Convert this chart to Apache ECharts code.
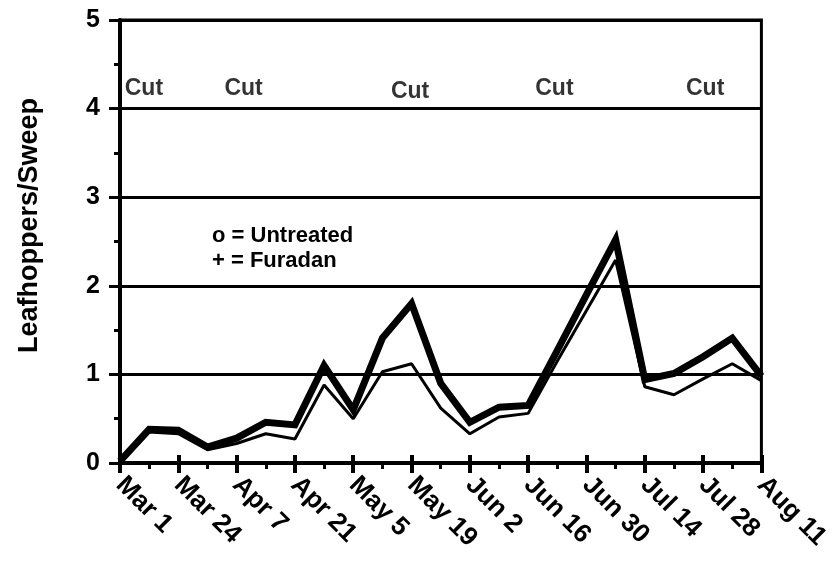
<!DOCTYPE html>
<html>
<head>
<meta charset="utf-8">
<script src="https://cdn.jsdelivr.net/npm/echarts@6/dist/echarts.min.js"></script>
<style>
  html, body { margin: 0; padding: 0; background: #fff; }
  #chart { width: 833px; height: 572px; }
</style>
</head>
<body>
<div id="chart"></div>
<script>
// tick labels (every other sampling date)
const dateLabels = ['Mar 1', 'Mar 24', 'Apr 7', 'Apr 21', 'May 5', 'May 19', 'Jun 2', 'Jun 16', 'Jun 30', 'Jul 14', 'Jul 28', 'Aug 11'];

// leafhoppers per sweep, one value per sampling date (23 dates)
const untreated = [0.02, 0.38, 0.37, 0.18, 0.28, 0.46, 0.43, 1.1, 0.6, 1.41, 1.8, 0.9, 0.46, 0.63, 0.65, 1.27, 1.9, 2.52, 0.94, 1.01, 1.2, 1.41, 0.98];
const furadan = [0.0, 0.35, 0.33, 0.15, 0.22, 0.33, 0.27, 0.88, 0.5, 1.03, 1.12, 0.62, 0.33, 0.52, 0.56, 1.15, 1.72, 2.29, 0.86, 0.77, 0.95, 1.12, 0.93];

// "Cut" annotations, in date-index / value units
const cutX = [0.82, 4.24, 9.95, 14.9, 20.07];
const cutY = [4.22, 4.22, 4.19, 4.23, 4.23];

const FONT = 'Liberation Sans';
const chart = echarts.init(document.getElementById('chart'));

const toPairs = (arr) => arr.map((v, i) => [i, v]);

const option = {
  animation: false,
  backgroundColor: '#fff',
  textStyle: { fontFamily: FONT },
  title: {
    text: 'o = Untreated\n+ = Furadan',
    left: 207,
    top: 218,
    textStyle: { fontFamily: FONT, fontWeight: 'bold', fontSize: 22, color: '#000', lineHeight: 25 },
  },
  grid: {
    left: 120, right: 68, top: 20, bottom: 109,
    show: true, borderColor: '#000', borderWidth: 3, backgroundColor: 'transparent',
  },
  xAxis: [{
    type: 'value',
    min: 0, max: 22, interval: 2,
    axisLine: { lineStyle: { color: '#000', width: 4 } },
    axisTick: { show: true, length: 10, lineStyle: { color: '#000', width: 4 } },
    minorTick: { show: true, splitNumber: 2, length: 6, lineStyle: { color: '#000', width: 3 } },
    splitLine: { show: false },
    axisLabel: {
      rotate: -45, margin: 18,
      fontFamily: FONT, fontWeight: 'bold', fontSize: 26, color: '#000',
      formatter: (v) => dateLabels[v / 2] ?? '',
    },
  }, {
    type: 'value',
    position: 'bottom',
    min: 0, max: 22, interval: 2,
    axisLine: { show: false },
    axisTick: { show: true, inside: true, length: 8, lineStyle: { color: '#000', width: 4 } },
    axisLabel: { show: false },
    splitLine: { show: false },
  }],
  yAxis: {
    type: 'value',
    min: 0, max: 5, interval: 1,
    name: 'Leafhoppers/Sweep',
    nameLocation: 'middle',
    nameGap: 77,
    // left padding nudges the rotated title upwards, as in the original
    nameTextStyle: { fontFamily: FONT, fontWeight: 'bold', fontSize: 27, color: '#000', padding: [0, 0, 0, 32] },
    axisLine: { show: true, lineStyle: { color: '#000', width: 4 } },
    axisTick: { show: true, length: 11, lineStyle: { color: '#000', width: 3 } },
    minorTick: { show: true, splitNumber: 2, length: 6, lineStyle: { color: '#000', width: 3 } },
    splitLine: { show: true, lineStyle: { color: '#000', width: 3 } },
    axisLabel: { margin: 20, fontFamily: FONT, fontWeight: 'bold', fontSize: 25, color: '#000' },
  },
  series: [
    {
      name: 'Untreated',
      type: 'line',
      data: toPairs(untreated),
      symbol: 'none',
      lineStyle: { color: '#000', width: 7, join: 'miter' },
      z: 3,
    },
    {
      name: 'Furadan',
      type: 'line',
      data: toPairs(furadan),
      symbol: 'none',
      lineStyle: { color: '#000', width: 3 },
      z: 4,
    },
    {
      name: 'Cut',
      type: 'scatter',
      data: cutX.map((x, i) => [x, cutY[i]]),
      symbolSize: 0,
      label: {
        show: true, position: 'inside', formatter: 'Cut',
        fontFamily: FONT, fontWeight: 'bold', fontSize: 23, color: '#000',
      },
      z: 5,
    },
  ],
};

chart.setOption(option);
</script>
</body>
</html>
